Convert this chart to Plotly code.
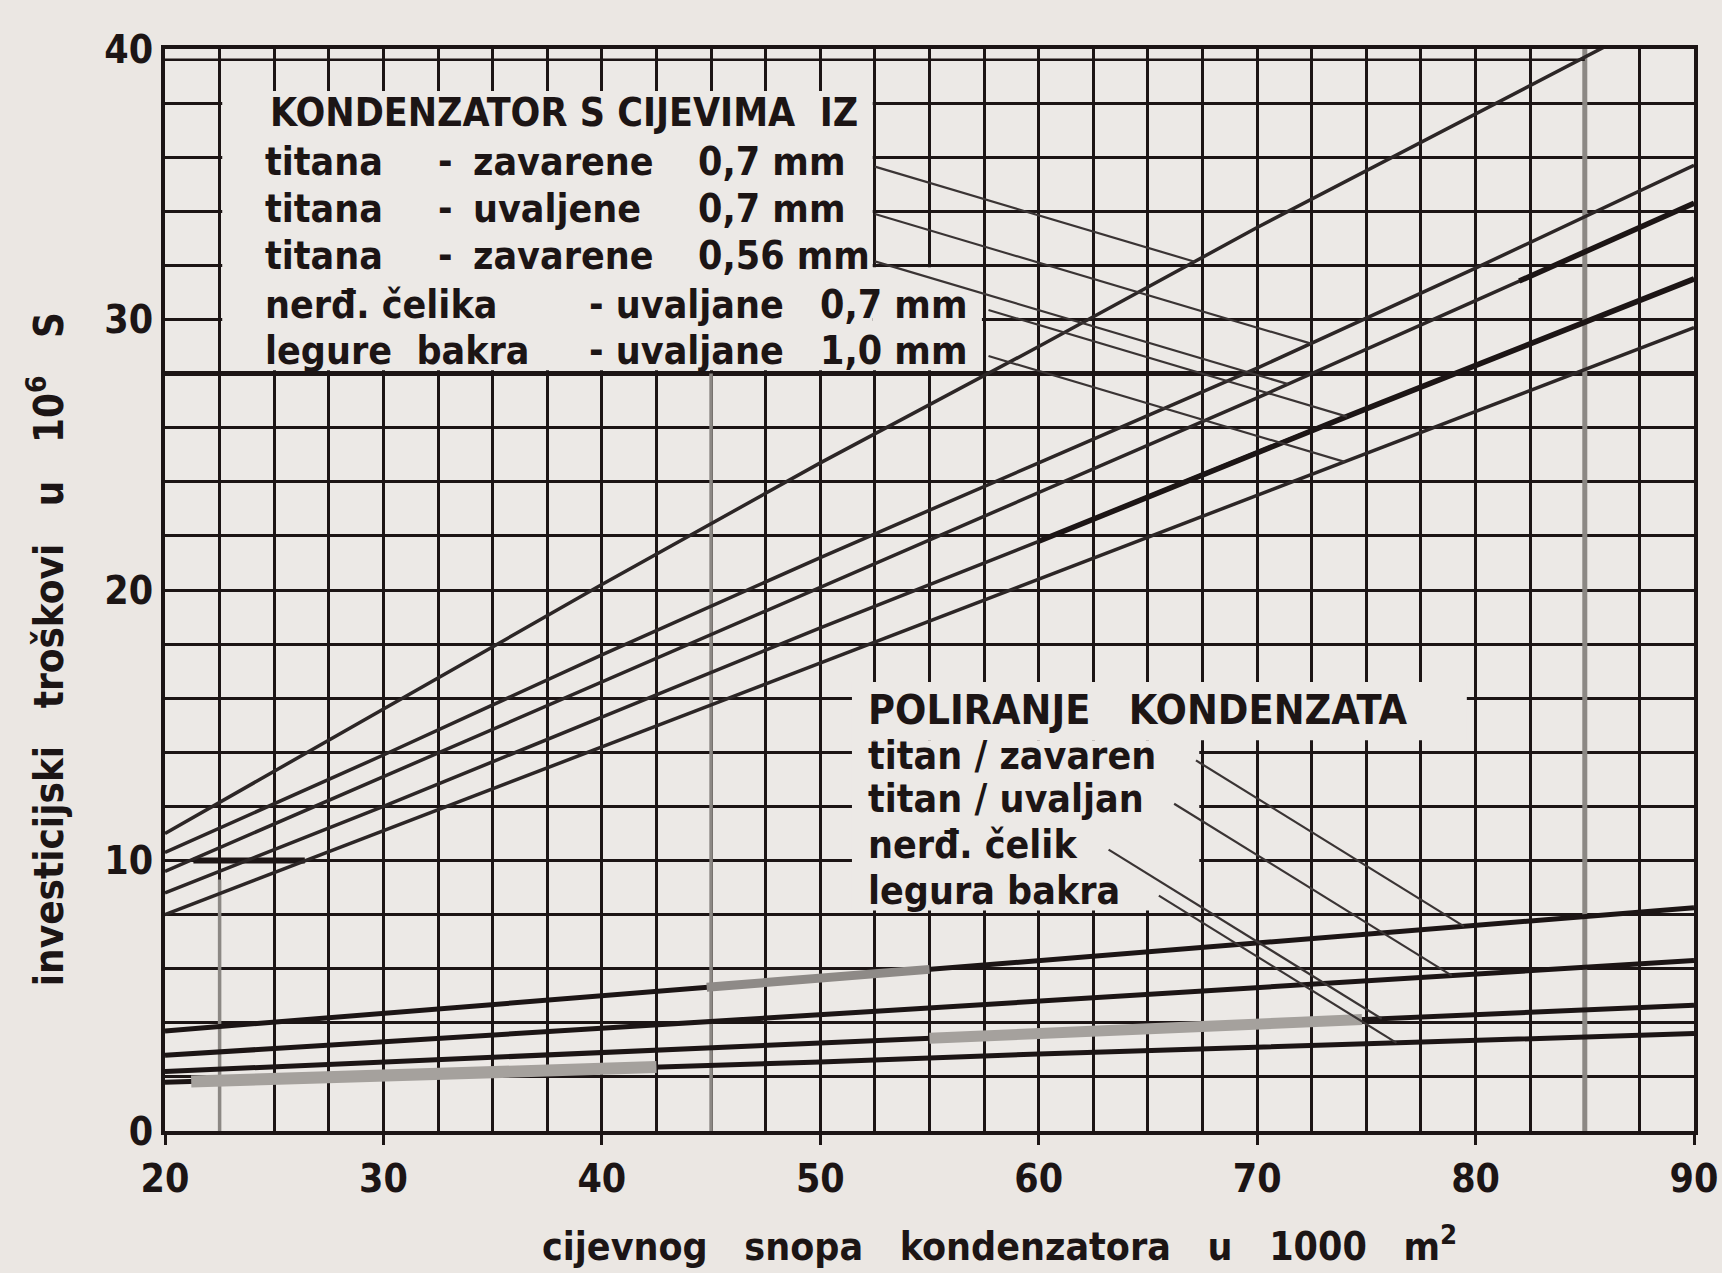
import numpy as np
import plotly.graph_objects as go

# ---------------- data ----------------
area_x = [20, 30, 40, 50, 60, 70, 80, 90]   # cijevnog snopa kondenzatora u 1000 m2

# KONDENZATOR S CIJEVIMA IZ ...
kond_ti_zav_07 = [11.0, 15.6, 20.2, 24.7, 29.0, 33.4, 37.6, 41.8]
kond_ti_uva_07 = [10.3, 13.9, 17.6, 21.2, 24.7, 28.2, 31.9, 35.7]
kond_ti_zav_056 = [9.6, 13.1, 16.6, 20.1, 23.6, 27.1, 30.7, 34.3]
kond_nerd_07 = [8.8, 12.0, 15.3, 18.6, 21.8, 25.1, 28.3, 31.5]
kond_cu_10 = [8.0, 11.1, 14.2, 17.3, 20.4, 23.5, 26.6, 29.7]

# POLIRANJE KONDENZATA
pol_ti_zav = [3.7, 4.35, 5.0, 5.65, 6.3, 6.95, 7.6, 8.25]
pol_ti_uva = [2.8, 3.3, 3.8, 4.3, 4.8, 5.3, 5.8, 6.3]
pol_nerd = [2.2, 2.55, 2.9, 3.25, 3.6, 3.95, 4.3, 4.65]
pol_cu = [1.8, 2.05, 2.3, 2.55, 2.85, 3.1, 3.35, 3.6]

x_ticks = [20, 30, 40, 50, 60, 70, 80, 90]
y_ticks = [0, 10, 20, 30, 40]

kond_title = "KONDENZATOR S CIJEVIMA  IZ"
pol_title = "POLIRANJE   KONDENZATA"
pol_labels = ["titan / zavaren", "titan / uvaljan", "nerđ. čelik", "legura bakra"]
x_title = "cijevnog   snopa   kondenzatora   u   1000   m<sup>2</sup>"
y_title = "investicijski   troškovi   u   10<sup>6</sup>   S"

# ---------------- style ----------------
FONT = "DejaVu Sans Condensed, Liberation Sans Narrow, DejaVu Sans, sans-serif"
INK = "#1c1515"
PAPER = "#ebe7e3"
PLOTBG = "#ece9e6"
RISE = "#2c2626"

kond_series = [kond_ti_zav_07, kond_ti_uva_07, kond_ti_zav_056, kond_nerd_07, kond_cu_10]
pol_series = [pol_ti_zav, pol_ti_uva, pol_nerd, pol_cu]

fig = go.Figure()

for s in kond_series:
    fig.add_trace(go.Scatter(x=area_x, y=s, mode="lines",
                             line=dict(color=RISE, width=3.5), showlegend=False, hoverinfo="skip"))
for s in pol_series:
    fig.add_trace(go.Scatter(x=area_x, y=s, mode="lines",
                             line=dict(color=INK, width=5), showlegend=False, hoverinfo="skip"))


def seg(series, xa, xb, color, width):
    xs = np.linspace(xa, xb, 20)
    ys = np.interp(xs, area_x, series)
    fig.add_trace(go.Scatter(x=xs, y=ys, mode="lines", line=dict(color=color, width=width),
                             showlegend=False, hoverinfo="skip"))


# retouched (thick / gray) stretches visible on the scan
seg(kond_nerd_07, 60, 90, INK, 5.5)
seg(kond_ti_zav_056, 82, 90, INK, 5.5)
seg(pol_cu, 21.2, 42.5, "#a5a19d", 12)
seg(pol_ti_zav, 44.8, 55, "#8e8a87", 9)
seg(pol_nerd, 55, 74.8, "#a5a19d", 11)


def leader(series, x0, y0, slope, color="#3a3434", width=2.2):
    xs = np.linspace(x0, 90, 3000)
    yl = y0 - slope * (xs - x0)
    yc = np.interp(xs, area_x, series)
    idx = np.argmax(yl <= yc)
    fig.add_trace(go.Scatter(x=[x0, xs[idx]], y=[y0, yl[idx]], mode="lines",
                             line=dict(color=color, width=width), showlegend=False, hoverinfo="skip"))


# leader lines from the legend texts to the curves
kond_rows_y = [35.85, 34.1, 32.35, 30.55, 28.85]
kond_lead_x = [52.5, 52.5, 52.5, 57.7, 57.7]
for s, yy, xx in zip(kond_series, kond_rows_y, kond_lead_x):
    leader(s, xx, yy - 0.2, 0.24)

pol_rows_y = [13.9, 12.3, 10.6, 8.9]
pol_lead_x = [67.2, 66.2, 63.2, 65.5]
for s, yy, xx in zip(pol_series, pol_rows_y, pol_lead_x):
    leader(s, xx, yy - 0.2, 0.5)

# ---------------- shapes: legend masks, gray fold lines ----------------
shapes = []
mask = dict(type="rect", xref="x", yref="y", layer="between", fillcolor=PLOTBG, line=dict(width=0))
shapes.append(dict(mask, x0=22.62, x1=52.4, y0=28.12, y1=38.45))
shapes.append(dict(mask, x0=52.4, x1=57.4, y0=28.12, y1=31.93))
shapes.append(dict(mask, x0=51.45, x1=79.6, y0=14.45, y1=16.6))
shapes.append(dict(mask, x0=51.45, x1=67.35, y0=8.15, y1=14.45))

gray = dict(type="line", xref="x", yref="y", layer="between", line=dict(color="#8c8884", width=5))
shapes.append(dict(gray, x0=85, x1=85, y0=0, y1=40))
shapes.append(dict(gray, x0=45, x1=45, y0=0, y1=28, line=dict(color="#8c8884", width=3.5)))
shapes.append(dict(gray, x0=22.5, x1=22.5, y0=0, y1=9.3, line=dict(color="#8c8884", width=3.5)))
# heavy rule under the upper legend box, double top rule, retouch at y=10
shapes.append(dict(type="line", xref="paper", yref="y", layer="between", x0=0, x1=1, y0=28, y1=28,
                   line=dict(color=INK, width=5)))
shapes.append(dict(type="line", xref="x", yref="y", layer="between", x0=20, x1=85, y0=39.6, y1=39.6,
                   line=dict(color=INK, width=2.5)))
shapes.append(dict(type="line", xref="x", yref="y", layer="between", x0=21.3, x1=26.4, y0=10, y1=10,
                   line=dict(color=INK, width=6)))

# ---------------- annotations ----------------
ann = []
ROW = 39
tf = dict(family=FONT, size=ROW, color=INK, weight="bold")


def txt(x, y, t, size=ROW):
    ann.append(dict(x=x, y=y, xref="x", yref="y", text=t, showarrow=False,
                    xanchor="left", yanchor="middle", font=dict(tf, size=size)))


txt(24.7, 37.65, kond_title, 39)
cols1 = [(24.5, "titana"), (32.4, "-"), (34.0, "zavarene"), (44.3, "0,7 mm")]
cols2 = [(24.5, "titana"), (32.4, "-"), (34.0, "uvaljene"), (44.3, "0,7 mm")]
cols3 = [(24.5, "titana"), (32.4, "-"), (34.0, "zavarene"), (44.3, "0,56 mm")]
cols4 = [(24.5, "nerđ. čelika"), (39.3, "- uvaljane"), (49.9, "0,7 mm")]
cols5 = [(24.5, "legure  bakra"), (39.3, "- uvaljane"), (49.9, "1,0 mm")]
for row, yy in zip([cols1, cols2, cols3, cols4, cols5], kond_rows_y):
    for xx, t in row:
        txt(xx, yy, t)

txt(52.1, 15.55, pol_title, 41)
for lab, yy in zip(pol_labels, pol_rows_y):
    txt(52.1, yy, lab, 39)

ann.append(dict(x=58.2, xref="x", y=-0.104, yref="paper", text=x_title, showarrow=False,
                xanchor="center", yanchor="middle",
                font=dict(family=FONT, size=39, color=INK, weight="bold")))
ann.append(dict(x=-0.078, xref="paper", y=17.8, yref="y", text=y_title, showarrow=False,
                textangle=-90, xanchor="center", yanchor="middle",
                font=dict(family=FONT, size=40, color=INK, weight="bold")))

fig.update_layout(
    width=1722, height=1273,
    margin=dict(l=165, r=28, t=49, b=142),
    paper_bgcolor=PAPER, plot_bgcolor=PLOTBG,
    shapes=shapes, annotations=ann, showlegend=False,
    font=dict(family=FONT, color=INK),
)
tickfont = dict(family=FONT, size=39, color=INK, weight="bold")
fig.update_xaxes(range=[20, 90], tickvals=x_ticks, ticktext=[str(v) for v in x_ticks],
                 showgrid=True, gridcolor=INK, gridwidth=3, zeroline=False, automargin=False,
                 showline=True, linecolor=INK, linewidth=4, mirror=True,
                 ticks="outside", ticklen=10, tickwidth=3, tickcolor=INK,
                 tickfont=tickfont, ticklabeloverflow="allow",
                 minor=dict(dtick=2.5, tick0=20, showgrid=True, gridcolor=INK, gridwidth=3, ticks=""))
fig.update_yaxes(range=[0, 40], tickvals=y_ticks, ticktext=[str(v) for v in y_ticks],
                 showgrid=True, gridcolor=INK, gridwidth=3, zeroline=False, automargin=False,
                 showline=True, linecolor=INK, linewidth=4, mirror=True,
                 ticks="", tickfont=tickfont, ticklabeloverflow="allow",
                 minor=dict(dtick=2, tick0=0, showgrid=True, gridcolor=INK, gridwidth=3, ticks=""))

fig.write_html("out.html", config={"displayModeBar": False},
               post_script="document.body.style.margin='0';document.body.style.overflow='hidden';")
